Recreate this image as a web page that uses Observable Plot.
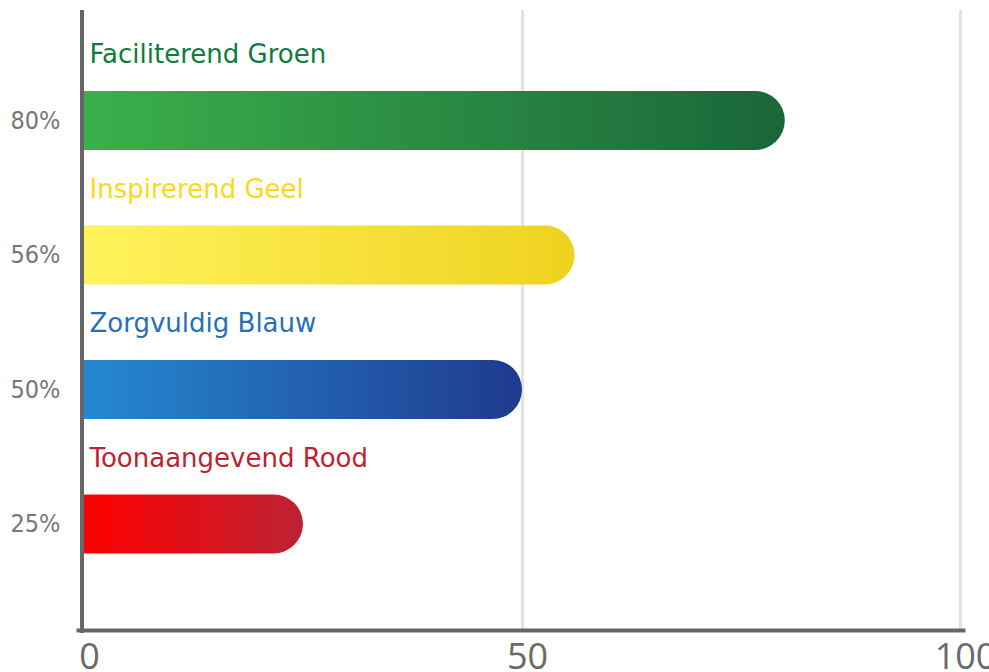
<!DOCTYPE html>
<html>
<head>
<meta charset="utf-8">
<script src="https://cdn.jsdelivr.net/npm/d3@7"></script>
<script src="https://cdn.jsdelivr.net/npm/@observablehq/plot@0.6"></script>
<style>
  html, body { margin: 0; padding: 0; background: #fff; overflow: hidden; }
  #chart svg { display: block; }
</style>
</head>
<body>
<div id="chart"></div>
<script>
const categories = ["Faciliterend Groen", "Inspirerend Geel", "Zorgvuldig Blauw", "Toonaangevend Rood"];
const values = [80, 56, 50, 25];
const pctLabels = ["80%", "56%", "50%", "25%"];
const labelColors = ["#0e7b3d", "#fbd81a", "#2471b8", "#c21f31"];
const startColors = ["#3bb04b", "#fff35c", "#2589d0", "#ff0000"];
const endColors = ["#1a663a", "#efd21f", "#1f3a8f", "#bc2233"];
const xTicks = [0, 50, 100];
const barStart = -6;

const data = categories.map((name, i) => ({
  name, value: values[i], pct: pctLabels[i], labelColor: labelColors[i],
  grad: `url(#grad${i})`
}));

const ns = "http://www.w3.org/2000/svg";
function gradientDefs() {
  const defs = document.createElementNS(ns, "defs");
  categories.forEach((c, i) => {
    const g = document.createElementNS(ns, "linearGradient");
    g.setAttribute("id", `grad${i}`);
    g.setAttribute("x1", "0"); g.setAttribute("x2", "1");
    g.setAttribute("y1", "0"); g.setAttribute("y2", "0");
    const s0 = document.createElementNS(ns, "stop");
    s0.setAttribute("offset", String(-barStart / (values[i] - barStart)));
    s0.setAttribute("stop-color", startColors[i]);
    const s1 = document.createElementNS(ns, "stop");
    s1.setAttribute("offset", "1");
    s1.setAttribute("stop-color", endColors[i]);
    g.appendChild(s0); g.appendChild(s1);
    defs.appendChild(g);
  });
  return defs;
}

const pctOf = new Map(data.map(d => [d.name, d.pct]));

const chart = Plot.plot({
  width: 989,
  height: 672,
  marginLeft: 84,
  marginRight: 29,
  marginTop: 10,
  marginBottom: 42,
  style: { background: "#fff", overflow: "visible" },
  color: { type: "identity" },
  x: { domain: [0, 100] },
  y: { domain: categories, paddingInner: 0.561, paddingOuter: 0.585, align: 0.514, round: false },
  marks: [
    gradientDefs,
    Plot.ruleX([50, 100], { stroke: "#e2e2e2", strokeWidth: 3 }),
    Plot.barX(data, {
      x1: barStart, x2: "value", y: "name", fill: "grad",
      rx: 29.5, clip: true
    }),
    Plot.text(data, {
      x: 0, y: "name", text: "name", fill: "labelColor",
      textAnchor: "start", dx: 5, dy: -66,
      fontSize: 26, fontFamily: "DejaVu Sans"
    }),
    Plot.axisY({
      tickSize: 0, tickPadding: 24, tickFormat: d => pctOf.get(d),
      fontSize: 25, fontFamily: "DejaVu Sans Condensed", fill: "#777", label: null
    }),
    Plot.axisX({
      ticks: xTicks, tickSize: 0, tickPadding: 13, dx: 5,
      fontSize: 36, fontFamily: "Open Sans", fill: "#6a6a6a", label: null
    }),
    Plot.frame({ anchor: "bottom", stroke: "#666", strokeWidth: 4, insetLeft: -6, insetRight: -3 }),
    Plot.ruleX([0], { stroke: "#666", strokeWidth: 4, dx: -2.5, insetBottom: -3 })
  ]
});

document.getElementById("chart").appendChild(chart);
</script>
</body>
</html>
